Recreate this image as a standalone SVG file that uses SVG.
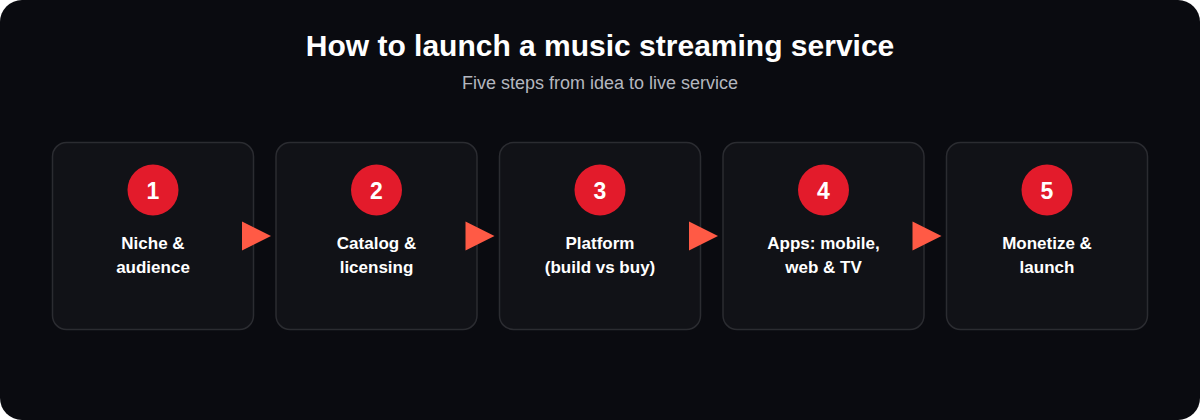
<svg xmlns="http://www.w3.org/2000/svg" width="1200" height="420" viewBox="0 0 1200 420">
<defs>
<style>
.card{fill:#111217;stroke:#2b2c31;stroke-width:1.5}
.badge{fill:#e31b2b}
.num{font-family:"Liberation Sans",Arial,sans-serif;font-weight:bold;font-size:23px;fill:#ffffff;text-anchor:middle}
.lbl{font-family:"Liberation Sans",Arial,sans-serif;font-weight:bold;font-size:17px;fill:#ffffff;text-anchor:middle}
.arrow{fill:#ff5a45}
</style>
</defs>
<rect x="0" y="0" width="1200" height="420" rx="22" fill="#0a0b10"/>
<text x="600" y="56" text-anchor="middle" font-family="'Liberation Sans',Arial,sans-serif" font-weight="bold" font-size="30" fill="#ffffff">How to launch a music streaming service</text>
<text x="600" y="89" text-anchor="middle" font-family="'Liberation Sans',Arial,sans-serif" font-size="18" fill="#b4b7bf">Five steps from idea to live service</text>
<g id="n1"><rect class="card" x="52.5" y="142.5" width="201" height="187" rx="14"/><circle class="badge" cx="153" cy="190" r="25.5"/><text class="num" x="153" y="198.5">1</text><text class="lbl" x="153" y="249">Niche &amp;</text><text class="lbl" x="153" y="273">audience</text></g>
<g id="n2"><rect class="card" x="276" y="142.5" width="201" height="187" rx="14"/><circle class="badge" cx="376.5" cy="190" r="25.5"/><text class="num" x="376.5" y="198.5">2</text><text class="lbl" x="376.5" y="249">Catalog &amp;</text><text class="lbl" x="376.5" y="273">licensing</text></g>
<g id="n3"><rect class="card" x="499.5" y="142.5" width="201" height="187" rx="14"/><circle class="badge" cx="600" cy="190" r="25.5"/><text class="num" x="600" y="198.5">3</text><text class="lbl" x="600" y="249">Platform</text><text class="lbl" x="600" y="273">(build vs buy)</text></g>
<g id="n4"><rect class="card" x="723" y="142.5" width="201" height="187" rx="14"/><circle class="badge" cx="823.5" cy="190" r="25.5"/><text class="num" x="823.5" y="198.5">4</text><text class="lbl" x="823.5" y="249">Apps: mobile,</text><text class="lbl" x="823.5" y="273">web &amp; TV</text></g>
<g id="n5"><rect class="card" x="946.5" y="142.5" width="201" height="187" rx="14"/><circle class="badge" cx="1047" cy="190" r="25.5"/><text class="num" x="1047" y="198.5">5</text><text class="lbl" x="1047" y="249">Monetize &amp;</text><text class="lbl" x="1047" y="273">launch</text></g>
<g id="connectors">
<path class="arrow" d="M242,221.5 L271,236 L242,250.5 Z"/>
<path class="arrow" d="M465.5,221.5 L494.5,236 L465.5,250.5 Z"/>
<path class="arrow" d="M689,221.5 L718,236 L689,250.5 Z"/>
<path class="arrow" d="M912.5,221.5 L941.5,236 L912.5,250.5 Z"/>
</g>
</svg>
